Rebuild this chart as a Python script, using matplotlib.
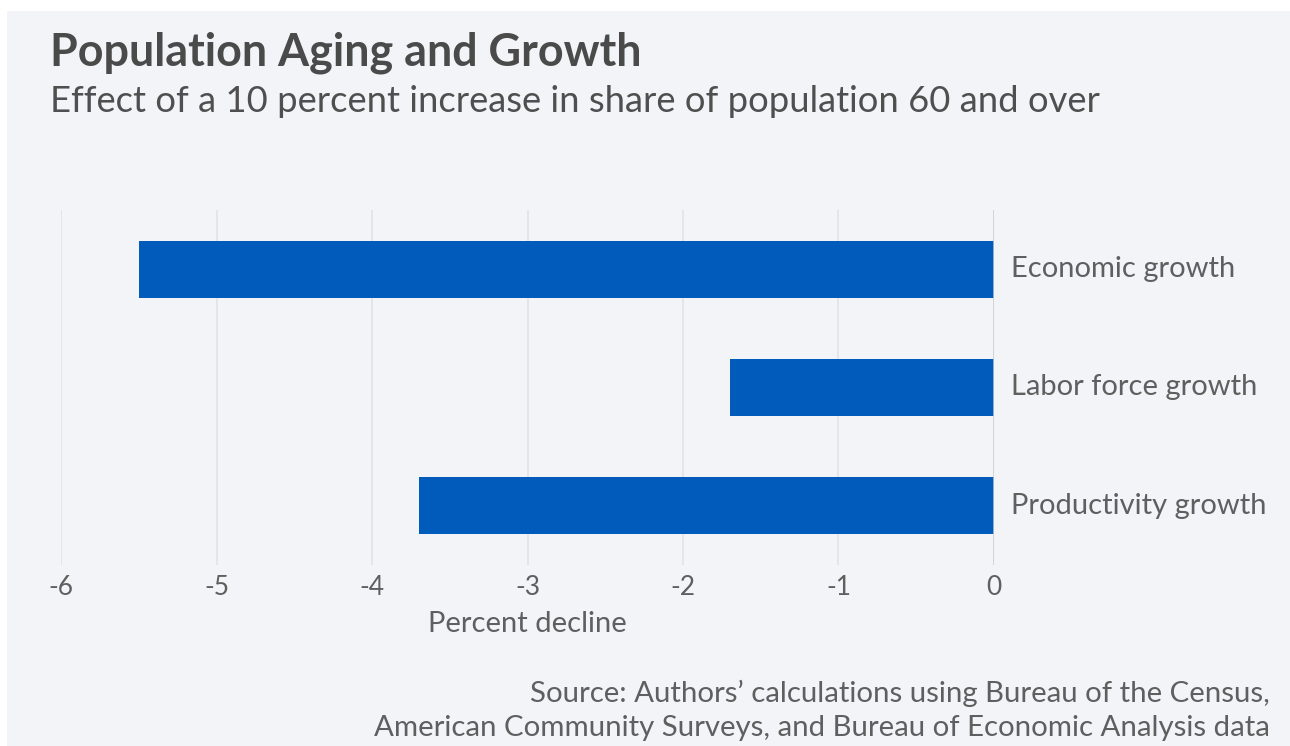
import matplotlib.pyplot as plt
from matplotlib.patches import Rectangle

# Данные
categories = ['Economic growth', 'Labor force growth', 'Productivity growth']
values = [-5.5, -1.7, -3.7]
xticks = [-6, -5, -4, -3, -2, -1, 0]

bg = '#f3f4f8'
bar_color = '#005bbb'
text_color = '#5f5f5f'

plt.rcParams['font.family'] = ['Lato', 'DejaVu Sans']

fig = plt.figure(figsize=(12.9, 7.46), dpi=100)
fig.patch.set_facecolor('white')
fig.patches.append(Rectangle((7 / 1290, 0), 1 - 7 / 1290, 1 - 11 / 746,
                             transform=fig.transFigure, facecolor=bg,
                             edgecolor='none', zorder=-10))

ax = fig.add_axes([61 / 1290, 1 - 565 / 746, (994 - 61) / 1290, (565 - 210) / 746])
ax.set_facecolor('none')

ypos = list(range(len(categories)))
ax.barh(ypos, values, height=0.48, color=bar_color, zorder=2)

ax.set_xlim(-6, 0)
ax.set_ylim(len(categories) - 0.5, -0.5)
ax.set_xticks(xticks)
ax.set_xticklabels([str(t) for t in xticks])
ax.set_yticks([])
for t in xticks[:-1]:
    ax.axvline(t, color='#e2e3e8', lw=1.2, zorder=1)
ax.axvline(0, color='#c8c9cd', lw=1.8, zorder=3)

for s in ax.spines.values():
    s.set_visible(False)
ax.tick_params(axis='x', length=0, pad=7, labelsize=19, labelcolor=text_color)
ax.set_xlabel('Percent decline', fontsize=21, color=text_color, labelpad=8)

for y, name in zip(ypos, categories):
    ax.text(0.11, y, name, ha='left', va='center', fontsize=21, color=text_color)

fig.text(50 / 1290, 1 - 53 / 746, 'Population Aging and Growth', fontsize=32.3,
         fontweight='bold', color='#4a4a4a', ha='left', va='center')
fig.text(50 / 1290, 1 - 101 / 746,
         'Effect of a 10 percent increase in share of population 60 and over',
         fontsize=26.2, color='#4f4f4f', ha='left', va='center')
fig.text(1270 / 1290, 1 - 693 / 746,
         'Source: Authors\u2019 calculations using Bureau of the Census,',
         fontsize=21.2, color=text_color, ha='right', va='center')
fig.text(1270 / 1290, 1 - 728 / 746,
         'American Community Surveys, and Bureau of Economic Analysis data',
         fontsize=21.2, color=text_color, ha='right', va='center')

fig.savefig('out.png', dpi=100, facecolor=fig.get_facecolor())
